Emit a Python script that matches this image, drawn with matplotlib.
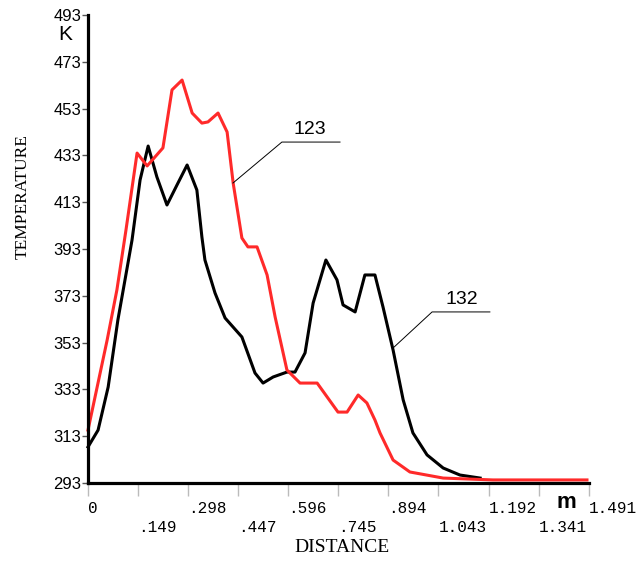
import matplotlib
matplotlib.use("Agg")
from matplotlib import pyplot as plt

# Data (distance in m, temperature in K)
dist_123 = [0.0, 0.057, 0.086, 0.113, 0.146, 0.176, 0.223, 0.25, 0.28, 0.31,
            0.339, 0.357, 0.387, 0.414, 0.432, 0.458, 0.476, 0.503, 0.533, 0.557,
            0.592, 0.631, 0.682, 0.744, 0.771, 0.804, 0.83, 0.854, 0.869, 0.908,
            0.958, 1.057, 1.205, 1.485]
temp_123 = [315.6, 354.1, 375.5, 401.1, 434.0, 428.5, 436.2, 461.0, 465.2, 451.1,
            446.8, 447.3, 451.1, 443.0, 421.2, 397.7, 393.9, 393.9, 381.9, 363.9,
            341.3, 335.7, 335.7, 323.3, 323.3, 330.6, 327.2, 319.9, 314.4, 302.8,
            297.7, 295.1, 294.3, 294.3]

dist_132 = [0.0, 0.03, 0.06, 0.089, 0.119, 0.131, 0.155, 0.179, 0.205, 0.235,
            0.265, 0.295, 0.324, 0.339, 0.348, 0.378, 0.408, 0.458, 0.497, 0.521,
            0.551, 0.592, 0.616, 0.646, 0.67, 0.708, 0.741, 0.759, 0.795, 0.824,
            0.854, 0.878, 0.908, 0.938, 0.967, 1.009, 1.057, 1.107, 1.167]
temp_132 = [308.4, 315.6, 334.0, 362.7, 387.0, 396.8, 422.5, 437.0, 423.8, 411.8,
            420.4, 428.9, 418.2, 398.1, 388.3, 374.2, 363.5, 355.4, 340.0, 335.7,
            338.3, 340.4, 340.4, 348.6, 369.9, 388.3, 379.8, 369.1, 366.1, 381.9,
            381.9, 368.2, 349.8, 328.5, 314.4, 305.0, 299.4, 296.4, 295.1]

# upper row and lower row of x tick labels
x_ticks_top = [0, 0.298, 0.596, 0.894, 1.192, 1.491]
x_labels_top = ['0', '.298', '.596', '.894', '1.192', '1.491']
x_ticks_low = [0.149, 0.447, 0.745, 1.043, 1.341]
x_labels_low = ['.149', '.447', '.745', '1.043', '1.341']
y_ticks = [293, 313, 333, 353, 373, 393, 413, 433, 453, 473, 493]

fig = plt.figure(figsize=(6.4, 5.62), dpi=100)
ax = fig.add_axes([0.1375, 0.1406, 0.7828, 0.8327])

ax.plot(dist_132, temp_132, color='black', lw=2.2, clip_on=False)
ax.plot(dist_123, temp_123, color='#ff2a2a', lw=2.2, clip_on=False)

ax.set_xlim(0, 1.491)
ax.set_ylim(293, 493)

for s in ['top', 'right']:
    ax.spines[s].set_visible(False)
for s in ['left', 'bottom']:
    ax.spines[s].set_linewidth(2.3)

# y ticks
ax.set_yticks(y_ticks)
ax.set_yticklabels([str(v) for v in y_ticks], family='Liberation Sans', fontsize=12)
ax.tick_params(axis='y', direction='out', length=4, width=1, color='#555555', pad=1)

# x ticks: two rows, left-aligned at the tick
ax.set_xticks(x_ticks_top)
ax.set_xticklabels(x_labels_top, family='Liberation Mono', fontsize=11.5, ha='left')
ax.set_xticks(x_ticks_low, minor=True)
ax.set_xticklabels(x_labels_low, minor=True, family='Liberation Mono',
                   fontsize=11.5, ha='left')
ax.tick_params(axis='x', which='major', direction='out', length=9, width=1,
               color='#bbbbbb', pad=4)
ax.tick_params(axis='x', which='minor', direction='out', length=9, width=1,
               color='#bbbbbb', pad=18)

# unit labels and axis titles
fig.text(65 / 640, 1 - 35 / 562, 'K', family='Liberation Sans', fontsize=15,
         ha='center', va='center')
fig.text(566 / 640, 1 - 502 / 562, 'm', family='Liberation Sans', fontsize=16,
         fontweight='bold', ha='center', va='center')
fig.text(23 / 640, 1 - 197 / 562, 'TEMPERATURE', family='Liberation Serif',
         fontsize=12.5, rotation=90, ha='center', va='center')
fig.text(342 / 640, 1 - 548 / 562, 'DISTANCE', family='Liberation Serif',
         fontsize=14, ha='center', va='center')

# curve labels with leader lines
ax.plot([0.4315, 0.577, 0.75], [421.2, 438.7, 438.7], color='black', lw=0.7)
ax.text(0.661, 440.5, '123', family='Liberation Sans', fontsize=14,
        ha='center', va='bottom')
ax.plot([0.908, 1.024, 1.196], [350.7, 366.1, 366.1], color='black', lw=0.7)
ax.text(1.113, 367.8, '132', family='Liberation Sans', fontsize=14,
        ha='center', va='bottom')

plt.savefig('out.png', dpi=100)
